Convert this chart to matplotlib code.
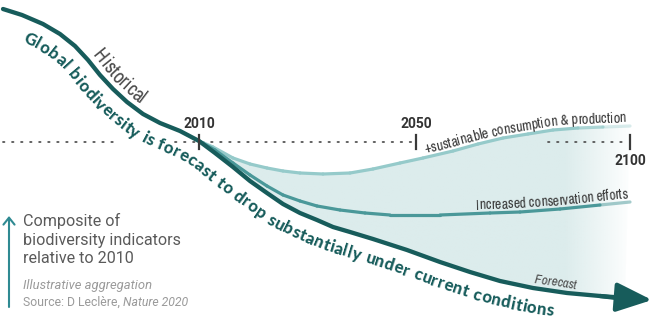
import numpy as np
import matplotlib
matplotlib.use('Agg')
import matplotlib.pyplot as plt
import matplotlib.colors as mcolors
from matplotlib import font_manager
from matplotlib.patches import Polygon, FancyArrowPatch
from matplotlib.collections import LineCollection

# values, in pixel positions (x to the right, y downward)
current_x = [3, 22, 43, 60, 75, 88, 100, 113, 127, 143, 160, 180, 199, 215, 233, 250, 267, 283,
             300, 317, 333, 350, 373, 407, 440, 470, 500, 533, 567, 600, 625]
current_y = [9, 15, 24, 34, 46, 60, 75, 89, 102, 114, 123, 131, 141, 153, 167, 181, 193, 204,
             213, 220, 227, 232, 239, 250, 262, 272, 281, 288, 293, 296, 299]
arrow_tip = (652, 300)

sustainable_x = [199, 213, 233, 250, 267, 283, 300, 323, 350, 373, 400, 423, 453, 478, 503, 528, 553, 578, 603, 630]
sustainable_y = [141, 147, 158, 164, 168, 171, 173, 174, 173, 169, 163, 158, 151, 144, 138, 134, 130, 128, 127, 126]

conservation_x = [199, 215, 233, 250, 267, 283, 300, 317, 340, 365, 390, 440, 490, 520, 560, 600, 630]
conservation_y = [141, 150, 163, 175, 186, 195, 201, 206, 210, 213, 215, 215, 213, 212, 209, 205, 202]

years = ['2010', '2050', '2100']
year_x = [199, 416, 630]
baseline_y = 142

main_title = 'Global biodiversity is forecast to drop substantially under current conditions'
legend_lines = 'Composite of\nbiodiversity indicators\nrelative to 2010'

dark = '#175c5b'
mid = '#4a9899'
light = '#95caca'
fill_col = '#dcecec'


def condensed_face(italic=False):
    # look for a narrow / condensed face among the installed ones, DejaVu last
    found = []
    for f in font_manager.fontManager.ttflist:
        narrowish = ('Condensed' in f.name or 'Narrow' in f.name or 'condensed' in str(f.stretch))
        w = f.weight if isinstance(f.weight, int) else {'normal': 400, 'regular': 400}.get(f.weight, 0)
        slanted = f.style in ('italic', 'oblique')
        if narrowish and w == 400 and slanted == italic:
            found.append((f.name.startswith('DejaVu'), f.fname))
    if found:
        return font_manager.FontProperties(fname=sorted(found)[0][1])
    return font_manager.FontProperties(family='Roboto', style='italic' if italic else 'normal')


label_fp = condensed_face()
label_it = condensed_face(True)
main_fp = font_manager.FontProperties(family='Lato', weight='black')
plain = 'Roboto'

fig = plt.figure(figsize=(6.7, 3.3), dpi=100)
ax = fig.add_axes([0, 0, 1, 1])


def advances(text, fp):
    font = font_manager.get_font(font_manager.findfont(fp))
    font.set_size(100, 72)
    return np.array([font.load_char(ord(c)).linearHoriAdvance / 65536 / 100 for c in text])


def offset_path(xs, ys, d):
    x = np.asarray(xs, float)
    y = np.asarray(ys, float)
    dx, dy = np.gradient(x), np.gradient(y)
    n = np.hypot(dx, dy)
    return x - dy / n * d, y + dx / n * d


def text_on_path(xs, ys, text, d, x_from, x_to, fp, color='#555', align='center', track=0.0,
                 zorder=6):
    px, py = offset_path(xs, ys, d)
    s = np.r_[0, np.cumsum(np.hypot(np.diff(px), np.diff(py)))]
    adv1 = advances(text, fp)
    a, b = np.interp(x_from, px, s), np.interp(x_to, px, s)
    size = (b - a - track * (len(text) - 1)) / adv1.sum()
    adv = adv1 * size + track
    s0 = (a + b) / 2 - (adv.sum() - track) / 2 if align == 'center' else a
    lefts = s0 + np.r_[0, np.cumsum(adv)[:-1]]
    fp = fp.copy()
    fp.set_size(size * 0.72)
    for c, w, left in zip(text, adv - track, lefts):
        sc = left + w / 2
        x, y = np.interp(sc, s, px), np.interp(sc, s, py)
        x1, y1 = np.interp(sc - 6, s, px), np.interp(sc - 6, s, py)
        x2, y2 = np.interp(sc + 6, s, px), np.interp(sc + 6, s, py)
        ang = np.degrees(np.arctan2(-(y2 - y1), x2 - x1))
        ax.text(x, y, c, rotation=ang, rotation_mode='anchor', ha='center', va='baseline',
                fontproperties=fp, color=color, zorder=zorder)
    return size


def faded_line(xs, ys, color, lw, x0, x1, zorder):
    pts = np.c_[xs, ys]
    segs = np.stack([pts[:-1], pts[1:]], axis=1)
    xm = (pts[:-1, 0] + pts[1:, 0]) / 2
    alpha = np.clip((x1 - xm) / (x1 - x0), 0.15, 1)
    cols = [mcolors.to_rgba(color, al) for al in alpha]
    ax.add_collection(LineCollection(segs, colors=cols, linewidths=lw, capstyle='round',
                                     joinstyle='round', zorder=zorder))


# shaded band between best case and current trend, fading out on the right
band = np.r_[np.c_[sustainable_x, sustainable_y],
             np.c_[current_x, current_y][::-1][[x >= 199 for x in current_x[::-1]]]]
poly = Polygon(band, closed=True, facecolor='none', edgecolor='none')
ax.add_patch(poly)
gx = np.linspace(195, 640, 400)
rgba = np.zeros((1, gx.size, 4))
rgba[..., :3] = mcolors.to_rgb(fill_col)
rgba[0, :, 3] = np.clip((634 - gx) / (634 - 565), 0, 1)
im = ax.imshow(rgba, extent=(195, 640, 320, 115), aspect='auto', interpolation='bilinear', zorder=1)
im.set_clip_path(poly)

# dotted time axis and year ticks
for x0, x1 in [(3, 113), (175, 416), (548, 627)]:
    ax.plot([x0, x1], [baseline_y, baseline_y], color='#555', lw=1.3, ls=(0, (0.8, 4.2)),
            dash_capstyle='round', zorder=2)
for lab, x in zip(years, year_x):
    ax.plot([x, x], [135, 149], color='#3a3a3a', lw=1.6, zorder=5)
    ty = 161 if lab == '2100' else 124
    ax.text(x, ty, lab, ha='center', va='center', fontsize=10, weight='bold', family=plain,
            color='#333')

# scenario lines
faded_line(sustainable_x, sustainable_y, light, 2.3, 575, 640, 3)
faded_line(conservation_x, conservation_y, mid, 2.3, 585, 645, 3)
ax.plot(current_x, current_y, color=dark, lw=3.1, solid_capstyle='round', zorder=4)
ax.add_patch(FancyArrowPatch((current_x[-2], current_y[-2]), arrow_tip,
                             arrowstyle='-|>,head_length=22,head_width=9', mutation_scale=1,
                             shrinkA=0, shrinkB=0, color=dark, lw=3.1, zorder=4))

# labels along the curves
text_on_path(current_x, current_y, main_title, 25, 22, 553, main_fp, color=dark, align='left',
             track=0.5)
text_on_path(current_x, current_y, 'Historical', -6, 92, 140, label_fp, color='#4a4a4a')
text_on_path(current_x, current_y, 'Forecast', -5, 534, 576, label_it, color='#4a4a4a')
text_on_path(sustainable_x, sustainable_y, '+sustainable consumption & production', -4, 425, 626,
             label_fp, color='#3a3a3a')
text_on_path(conservation_x, conservation_y, 'Increased conservation efforts', -4, 476, 628,
             label_fp, color='#3a3a3a')

# legend block
ax.add_patch(FancyArrowPatch((9, 307), (9, 216), arrowstyle='->,head_length=5,head_width=4',
                             mutation_scale=1, shrinkA=0, shrinkB=0, color='#2f8a92', lw=1.5))
ax.text(23, 213, legend_lines, ha='left', va='top', fontsize=11.6, family=plain, color='#5a5a5a',
        linespacing=1.3)
ax.text(23, 285, 'Illustrative aggregation', ha='left', va='center', fontsize=9.4, family=plain,
        style='italic', color='#9a9a9a')
src = ax.text(23, 302, 'Source: D Leclère, ', ha='left', va='center', fontsize=8.8, family=plain,
              color='#9a9a9a')
ax.annotate('Nature 2020', xy=(1, 0.5), xycoords=src, ha='left', va='center', fontsize=8.8,
            family=plain, style='italic', color='#9a9a9a')

ax.set_xlim(0, 670)
ax.set_ylim(330, 0)
ax.axis('off')
fig.savefig('out.png', dpi=100)
